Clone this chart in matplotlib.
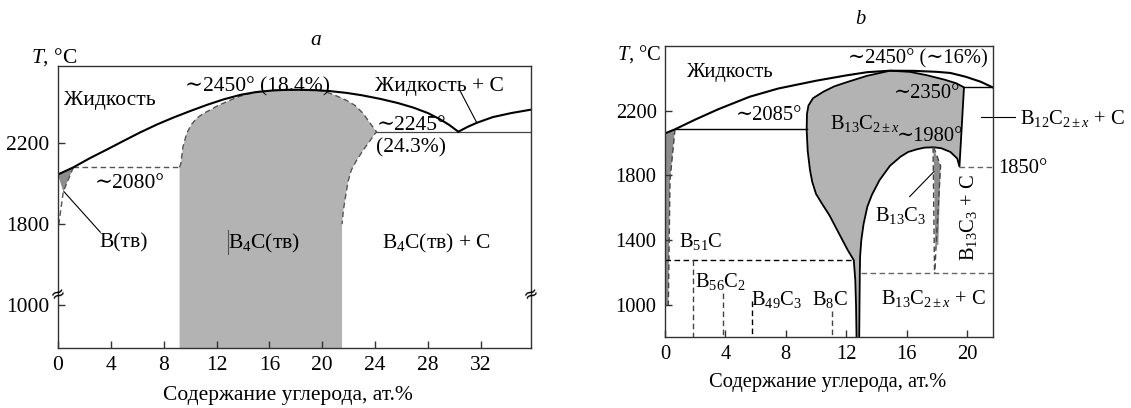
import numpy as np
import matplotlib
matplotlib.use("Agg")
import matplotlib.pyplot as plt

plt.rcParams['font.family'] = ['Liberation Serif', 'DejaVu Serif']
plt.rcParams['mathtext.fontset'] = 'custom'
plt.rcParams['mathtext.rm'] = 'Liberation Serif'
plt.rcParams['mathtext.it'] = 'Liberation Serif:italic'

# ---------- panel a (B-C, broken T axis) ----------
a_liq_x = [0, 1.16, 2.4, 3.7, 5.0, 6.2, 7.5, 8.7, 10.0, 11.25, 12.5, 13.8, 15.0, 16.3, 17.5,
           18.4, 19.5, 20.5, 21.8, 23.0, 24.4, 25.7, 26.9, 28.0, 28.9, 29.6, 30.3]
a_liq_t = [2045, 2080, 2125, 2168, 2212, 2252, 2292, 2325, 2358, 2388, 2415, 2438, 2452, 2460, 2463,
           2463, 2461, 2457, 2448, 2436, 2418, 2398, 2375, 2348, 2318, 2290, 2256]
a_cliq_x = [30.3, 31.0, 31.7, 32.9, 34.3, 35.8]
a_cliq_t = [2256, 2280, 2300, 2328, 2348, 2365]
a_b4c_x = [9.2, 9.2, 9.3, 9.45, 9.74, 10.1, 10.49, 11.0, 11.5, 12.1, 12.76, 13.5, 14.27, 15.4,
           16.3, 17.5, 18.4, 19.5, 20.07, 21.0, 21.8, 22.5, 23.1, 23.6, 24.1, 23.6, 23.1, 22.6,
           22.2, 21.95, 21.8, 21.6, 21.5, 21.5]
a_b4c_t = [700, 2080, 2100, 2180, 2248, 2292, 2322, 2346, 2363, 2385, 2404, 2425, 2441, 2454,
           2460, 2463, 2463, 2461, 2458, 2435, 2412, 2385, 2346, 2300, 2256, 2210, 2165, 2115,
           2067, 2010, 1951, 1869, 1800, 700]
a_b_x = [0, 1.16, 0.4]
a_b_t = [2045, 2080, 1960]
a_bsol_x = [1.16, 0.4, 0.05]
a_bsol_t = [2080, 1960, 1790]
a_eut1 = 2080
a_eut2 = 2256
a_xticks = [0, 4, 8, 12, 16, 20, 24, 28, 32]
a_yticks = [1000, 1800, 2200]

# ---------- panel b ----------
b_liq_x = [0, 0.66, 2.0, 3.5, 5.6, 7.5, 10.0, 12.0, 13.4, 14.9, 16.5, 18.0, 18.9, 19.9, 20.9, 21.7]
b_liq_t = [2060, 2085, 2145, 2208, 2286, 2337, 2385, 2418, 2438, 2447, 2446, 2440, 2433, 2410, 2379, 2344]
b_gray_x = [12.7, 12.65, 12.6, 12.5, 12.1, 11.5, 10.9, 10.4, 10.0, 9.75, 9.6, 9.45, 9.38, 9.4, 9.5,
            9.8, 10.5, 11.2, 12.0, 13.36, 14.9, 16.2, 17.3, 18.5, 19.3, 19.8,
            19.5, 19.35, 18.9, 18.3, 17.8, 17.2, 16.7, 16.1, 15.6, 14.9, 14.2, 13.7, 13.4, 13.15,
            13.0, 12.92, 12.9, 12.85]
b_gray_t = [700, 1000, 1154, 1277, 1339, 1445, 1552, 1625, 1686, 1760, 1833, 1950, 2081, 2180, 2232,
            2277, 2318, 2350, 2375, 2415, 2447, 2440, 2420, 2392, 2369, 2344,
            1855, 1905, 1945, 1968, 1974, 1972, 1962, 1945, 1916, 1860, 1770, 1680, 1607, 1500,
            1401, 1300, 1196, 700]
b_strip_x = [0, 0.66, 0.33, 0.22, 0]
b_strip_t = [2060, 2085, 1770, 1000, 1000]
b_b13c3_x = [17.75, 18.25, 18.1, 17.9, 17.8]
b_b13c3_t = [1974, 1860, 1370, 1370, 1900]
b_eut = 2085
b_per = 2344
b_low1 = 1280
b_low2 = 1197
b_t1850 = 1850
b_compound_x = [1.87, 3.82, 5.74, 11.08]
b_compound_top = [1280, 1073, 1024, 962]
b_xticks = [0, 4, 8, 12, 16, 20]
b_yticks = [1000, 1400, 1800, 2200]

GRAY = '#b3b3b3'
DARK = '#8c8c8c'
DASH = (0, (4, 2.5))
FA = 15.5
FB = 14.8


def fwd(t):
    t = np.asarray(t, dtype=float)
    return np.where(t >= 1800, t, np.where(t >= 1000, 1400 + (t - 1000) / 2, t + 400))


def inv(d):
    d = np.asarray(d, dtype=float)
    return np.where(d >= 1800, d, np.where(d >= 1400, 1000 + (d - 1400) * 2, d - 400))


fig = plt.figure(figsize=(11.31, 4.08), dpi=100)
axa = fig.add_axes([0.0513, 0.147, 0.4182, 0.691])
axb = fig.add_axes([0.588, 0.1748, 0.2897, 0.713])

for ax, fs in ((axa, FA), (axb, FB)):
    for s in ax.spines.values():
        s.set_linewidth(1.0)
        s.set_color('#333333')
    ax.tick_params(direction='in', length=5, width=1.0, color='#333333', pad=6, labelsize=fs)

# ---- a ----
axa.set_yscale('function', functions=(fwd, inv))
axa.set_xlim(0, 35.8)
axa.set_ylim(788, 2580)
axa.set_xticks(a_xticks)
axa.set_yticks(a_yticks)

axa.fill(a_b4c_x, a_b4c_t, color=GRAY, lw=0)
axa.plot(a_b4c_x[1:-1], a_b4c_t[1:-1], color='#555555', lw=1.0, ls=DASH)
axa.fill(a_b_x, a_b_t, color=DARK, lw=0)
axa.plot(a_bsol_x, a_bsol_t, color='#555555', lw=1.0, ls=DASH)
axa.plot([a_bsol_x[0], a_b4c_x[1]], [a_eut1, a_eut1], color='#555555', lw=1.0, ls=DASH)
axa.plot([24.1, 35.8], [a_eut2, a_eut2], color='#444444', lw=0.9)
axa.plot(a_liq_x, a_liq_t, color='black', lw=1.5)
axa.plot(a_cliq_x, a_cliq_t, color='black', lw=1.5)
axa.plot([30.4, 31.7], [2462, 2300], color='black', lw=0.8)
axa.plot([0.45, 3.2], [1960, 1720], color='black', lw=0.8)
axa.plot([12.9, 12.9], [1740, 1504], color='#555555', lw=0.8)

axa.text(3.9, 2412, 'Жидкость', ha='center', va='center', fontsize=FA)
axa.text(15.1, 2480, '∼2450° (18.4%)', ha='center', va='center', fontsize=FA)
axa.text(28.9, 2480, 'Жидкость + С', ha='center', va='center', fontsize=FA)
axa.text(24.1, 2289, '∼2245°', ha='left', va='center', fontsize=FA)
axa.text(24.1, 2174, '(24.3%)', ha='left', va='center', fontsize=FA)
axa.text(5.45, 2001, '∼2080°', ha='center', va='center', fontsize=FA)
axa.text(4.97, 1610, 'B(тв)', ha='center', va='center', fontsize=FA)
axa.text(15.6, 1610, 'B$_4$C(тв)', ha='center', va='center', fontsize=FA)
axa.text(28.6, 1610, 'B$_4$C(тв) + C', ha='center', va='center', fontsize=FA)
for xb in (0, 35.8):
    axa.text(xb, 1108, '≈', ha='center', va='center', rotation=25, fontsize=13,
             family='DejaVu Sans', clip_on=False)

axa.text(-0.008, 1.032, '$T$, °C', transform=axa.transAxes, ha='center', va='center', fontsize=FA)
axa.text(0.545, 1.092, 'a', transform=axa.transAxes, ha='center', va='center', style='italic', fontsize=FA)
axa.text(0.486, -0.17, 'Содержание углерода, ат.%', transform=axa.transAxes, ha='center', va='center',
         fontsize=FA)

# ---- b ----
axb.set_xlim(0, 21.7)
axb.set_ylim(804, 2601)
axb.set_xticks(b_xticks)
axb.set_yticks(b_yticks)

axb.fill(b_gray_x, b_gray_t, color=GRAY, lw=0)
axb.plot(b_gray_x, b_gray_t, color='black', lw=1.3)
axb.fill(b_strip_x, b_strip_t, color=DARK, lw=0)
axb.plot(b_strip_x[1:4], b_strip_t[1:4], color='#444444', lw=1.0, ls=DASH)
axb.fill(b_b13c3_x, b_b13c3_t, color=DARK, lw=0)
axb.plot([17.75, 17.85], [1974, b_low2], color='#444444', lw=1.0, ls=DASH)
axb.plot([17.8, 18.25, 17.95, 17.87], [1974, 1860, 1370, b_low2], color='#444444', lw=1.0, ls=DASH)
axb.plot(b_liq_x, b_liq_t, color='black', lw=1.5)
axb.plot([b_liq_x[1], 9.38], [b_eut, b_eut], color='black', lw=1.0)
axb.plot([19.8, 21.7], [b_per, b_per], color='black', lw=1.0)
axb.plot([0, 12.4], [b_low1, b_low1], color='black', lw=1.0, ls=DASH)
axb.plot([13.0, 21.7], [b_low2, b_low2], color='#666666', lw=1.0, ls=DASH)
axb.plot([19.5, 21.7], [b_t1850, b_t1850], color='#666666', lw=1.0, ls=DASH)
for xc, tc in zip(b_compound_x, b_compound_top):
    axb.plot([xc, xc], [tc, 700], color='#444444' if xc != 5.74 else 'black', lw=1.0, ls=DASH)
axb.plot([20.9, 23.2], [2163, 2163], color='black', lw=0.8, clip_on=False)
axb.plot([16.2, 17.8], [1669, 1823], color='black', lw=0.8)

axb.text(4.3, 2433, 'Жидкость', ha='center', va='center', fontsize=FB)
axb.text(16.75, 2523, '∼2450° (∼16%)', ha='center', va='center', fontsize=FB)
axb.text(17.35, 2309, '∼2350°', ha='center', va='center', fontsize=FB)
axb.text(6.9, 2173, '∼2085°', ha='center', va='center', fontsize=FB)
axb.text(13.25, 2123, 'B$_{13}$C$_{2\\pm x}$', ha='center', va='center', fontsize=FB)
axb.text(17.55, 2040, '∼1980°', ha='center', va='center', fontsize=FB)
axb.text(15.6, 1555, 'B$_{13}$C$_3$', ha='center', va='center', fontsize=FB)
axb.text(20.1, 1539, 'B$_{13}$C$_3$ + C', ha='center', va='center', rotation=90, fontsize=FB)
axb.text(17.75, 1042, 'B$_{13}$C$_{2\\pm x}$ + C', ha='center', va='center', fontsize=FB)
axb.text(23.5, 2153, 'B$_{12}$C$_{2\\pm x}$ + C', ha='left', va='center', clip_on=False, fontsize=FB)
axb.text(22.05, 1845, '1850°', ha='left', va='center', clip_on=False, fontsize=FB)
axb.text(2.37, 1391, 'B$_{51}$C', ha='center', va='center', fontsize=FB)
axb.text(3.7, 1144, 'B$_{56}$C$_2$', ha='center', va='center', fontsize=FB)
axb.text(7.4, 1032, 'B$_{49}$C$_3$', ha='center', va='center', fontsize=FB)
axb.text(10.9, 1032, 'B$_8$C', ha='center', va='center', fontsize=FB)

axb.text(-0.012, 0.971, '$T$, °C', transform=axb.transAxes, ha='right', va='center', fontsize=FB)
axb.text(0.597, 1.092, 'b', transform=axb.transAxes, ha='center', va='center', style='italic', fontsize=FB)
axb.text(0.497, -0.159, 'Содержание углерода, ат.%', transform=axb.transAxes, ha='center', va='center',
         fontsize=FB)

fig.savefig('out.png', dpi=100)
